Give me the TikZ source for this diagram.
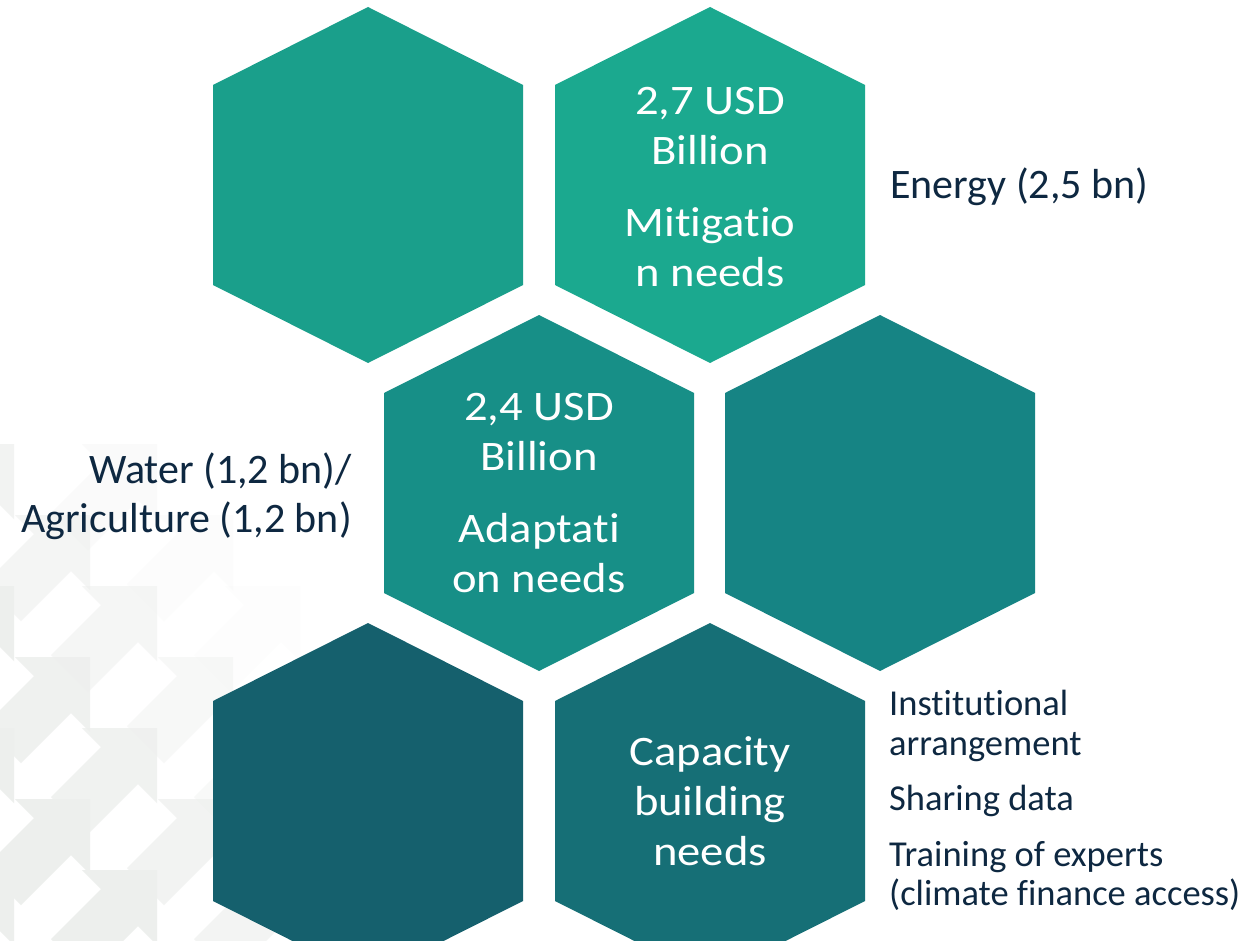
\documentclass[tikz,border=0pt]{standalone}
\usepackage{fontspec}
\setmainfont[RawFeature={-liga;-clig;-dlig;-calt}]{Carlito}
\newfontfamily\hexfont[FakeStretch=1.11, RawFeature={-liga;-clig;-dlig;-calt}]{Carlito}
\definecolor{hexTL}{HTML}{1A9F8B}
\definecolor{hexTR}{HTML}{1BA98F}
\definecolor{hexML}{HTML}{178F87}
\definecolor{hexMR}{HTML}{168484}
\definecolor{hexBL}{HTML}{15606D}
\definecolor{hexBR}{HTML}{166F76}
\definecolor{navy}{HTML}{0E2841}
\definecolor{bgarrow}{HTML}{EDEFED}
\tikzset{
  hextext/.style={text=white, align=center, inner sep=0pt, font=\hexfont\fontsize{42}{50}\selectfont},
  sidetext/.style={text=navy, inner sep=0pt, font=\fontsize{42}{49}\selectfont},
  listtext/.style={text=navy, align=left, inner sep=0pt, font=\fontsize{36.5}{39.5}\selectfont}
}
\begin{document}
\begin{tikzpicture}[x=1pt,y=-1pt]
\useasboundingbox (0,0) rectangle (1247,941);
\fill[white] (0,0) rectangle (1247,941);

% faint arrows in the back, fading out to the top right
\foreach \r in {-3,...,4}
  \foreach \c in {-1,...,3} {
    \pgfmathsetmacro\tx{90+\c*143+mod(\r+4,2)*67}
    \pgfmathsetmacro\ty{657+\r*71}
    \pgfmathsetmacro\op{max(0,min(1,1.7-\tx/320-(941-\ty)/520))}
    \fill[bgarrow, opacity=\op] (\tx,\ty) -- ++(-75,0) -- ++(19,19) -- ++(-50,50) -- ++(37,37) -- ++(50,-50) -- ++(19,19) -- cycle;
  }

\coordinate (TL) at (368,185);
\coordinate (TR) at (710,185);
\coordinate (ML) at (539,493);
\coordinate (MR) at (880,493);
\coordinate (BL) at (368,801);
\coordinate (BR) at (710,801);

\fill[hexTL] (TL) +(0,-178) -- +(155,-100) -- +(155,100) -- +(0,178) -- +(-155,100) -- +(-155,-100) -- cycle;
\fill[hexTR] (TR) +(0,-178) -- +(155,-100) -- +(155,100) -- +(0,178) -- +(-155,100) -- +(-155,-100) -- cycle;
\fill[hexML] (ML) +(0,-178) -- +(155,-100) -- +(155,100) -- +(0,178) -- +(-155,100) -- +(-155,-100) -- cycle;
\fill[hexMR] (MR) +(0,-178) -- +(155,-100) -- +(155,100) -- +(0,178) -- +(-155,100) -- +(-155,-100) -- cycle;
\fill[hexBL] (BL) +(0,-178) -- +(155,-100) -- +(155,100) -- +(0,178) -- +(-155,100) -- +(-155,-100) -- cycle;
\fill[hexBR] (BR) +(0,-178) -- +(155,-100) -- +(155,100) -- +(0,178) -- +(-155,100) -- +(-155,-100) -- cycle;

\node[hextext] (mitigation) at ([yshift=-2pt]TR) {2,7 USD\\Billion\\[22pt]Mitigatio\\n needs};
\node[hextext] (adaptation) at (ML) {2,4 USD\\Billion\\[22pt]Adaptati\\on needs};
\node[hextext] (capacity) at (BR) {Capacity\\building\\needs};

\node[sidetext, anchor=west] (energy) at (890,187) {Energy (2,5 bn)};
\node[sidetext, align=right, anchor=east] (water) at (352,496) {Water (1,2 bn)/\\Agriculture (1,2 bn)};
\node[listtext, anchor=north west] (caplist) at (889,690) {Institutional\\arrangement\\[16pt]Sharing data\\[16pt]Training of experts\\(climate finance access)};
\end{tikzpicture}
\end{document}
